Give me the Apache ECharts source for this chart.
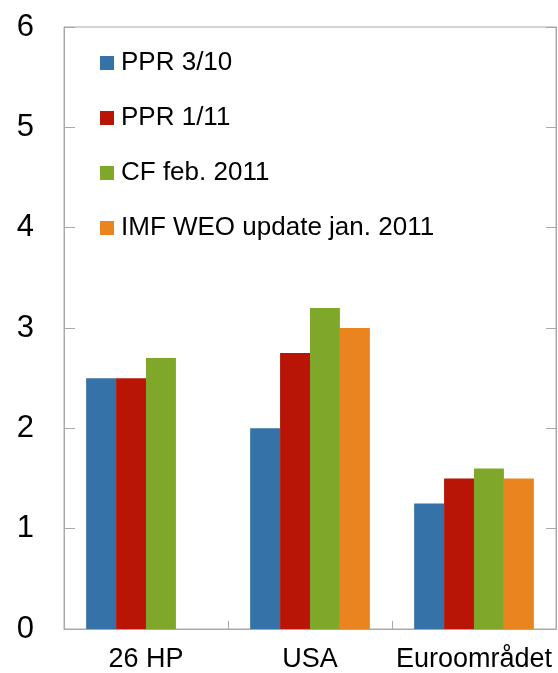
<!DOCTYPE html>
<html>
<head>
<meta charset="utf-8">
<script src="https://cdn.jsdelivr.net/npm/echarts@6/dist/echarts.min.js"></script>
<style>html,body{margin:0;padding:0;background:#fff}#c{width:558px;height:673px}</style>
</head>
<body>
<div id="c"></div>
<script>
const categories = ['26 HP', 'USA', 'Euroområdet'];
const seriesNames = ['PPR 3/10', 'PPR 1/11', 'CF feb. 2011', 'IMF WEO update jan. 2011'];
const ppr310 = [2.5, 2.0, 1.25];
const ppr111 = [2.5, 2.75, 1.5];
const cfFeb2011 = [2.7, 3.2, 1.6];
const imfWeo = [null, 3.0, 1.5];
const yTicks = [0, 1, 2, 3, 4, 5, 6];

const colors = ['#3572A8', '#B81507', '#7FA72A', '#E9841F'];
const values = [ppr310, ppr111, cfFeb2011, imfWeo];
const font = 'Liberation Sans, Arial, sans-serif';
const lineCol = '#a8a8a8';

const chart = echarts.init(document.getElementById('c'), null, {renderer: 'canvas'});
chart.setOption({
  animation: false,
  backgroundColor: '#fff',
  color: colors,
  grid: {left: 64, top: 27, right: 2, bottom: 43, show: true, borderColor: lineCol, borderWidth: 1, containLabel: false},
  legend: {
    orient: 'vertical', left: 100, top: 50, padding: 0,
    itemWidth: 14, itemHeight: 14, itemGap: 29,
    icon: 'rect',
    textStyle: {fontFamily: font, fontSize: 26, color: '#000', lineHeight: 26, padding: [0, 0, 0, 2]},
    data: seriesNames
  },
  xAxis: {
    type: 'category', data: categories,
    axisLine: {show: true, lineStyle: {color: lineCol, width: 1}},
    axisTick: {show: true, inside: true, length: 8, lineStyle: {color: lineCol}},
    axisLabel: {fontFamily: font, fontSize: 27, color: '#000', margin: 17, interval: 0}
  },
  yAxis: [{
    type: 'value', min: 0, max: 6, interval: 1,
    axisLine: {show: true, lineStyle: {color: lineCol}},
    axisTick: {show: true, inside: true, length: 11, lineStyle: {color: lineCol}},
    splitLine: {show: false},
    axisLabel: {fontFamily: font, fontSize: 31, color: '#000', margin: 30,
      formatter: v => yTicks.includes(v) ? String(v) : ''}
  }, {
    type: 'value', min: 0, max: 6, interval: 1, position: 'right',
    axisLine: {show: true, lineStyle: {color: lineCol}},
    axisTick: {show: true, inside: true, length: 10, lineStyle: {color: lineCol}},
    splitLine: {show: false},
    axisLabel: {show: false}
  }],
  series: seriesNames.map((n, i) => ({
    name: n, type: 'bar', data: values[i],
    barGap: '0%', barCategoryGap: '27%',
    itemStyle: {color: colors[i]}
  }))
});
</script>
</body>
</html>
